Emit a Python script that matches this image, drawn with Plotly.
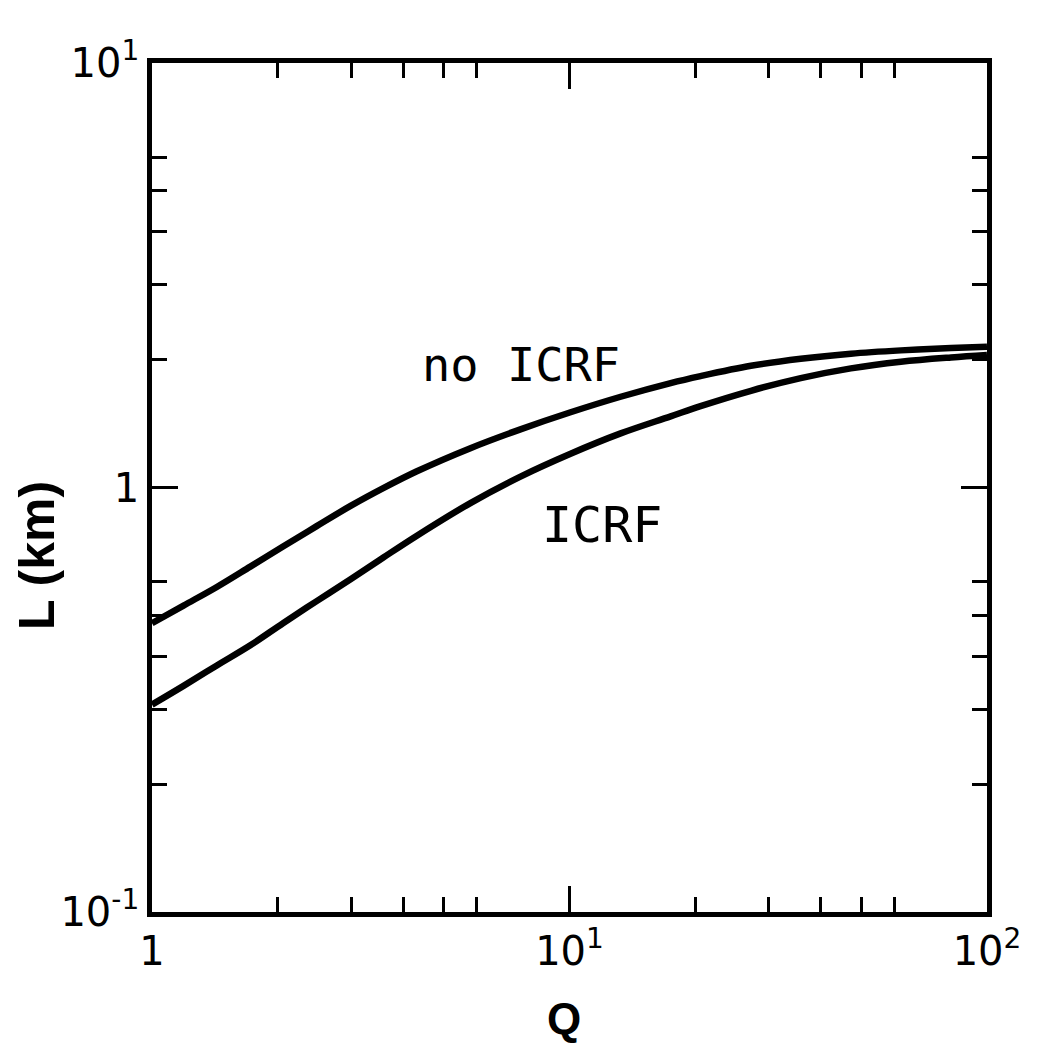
import plotly.graph_objects as go
import math

# Q sample points shared by both curves
q_values = [1, 1.19, 1.43, 1.72, 2.06, 2.48, 2.99, 3.59, 4.31, 5.79, 7.63,
            10.06, 13.26, 17.47, 20.6, 27.2, 35.8, 47.2, 62.2, 82.0, 100]

# L (km) without ICRF heating
l_no_icrf = [0.479, 0.527, 0.583, 0.651, 0.726, 0.811, 0.905, 0.998, 1.092,
             1.238, 1.371, 1.504, 1.636, 1.762, 1.83, 1.935, 2.011, 2.067,
             2.104, 2.131, 2.146]

# L (km) with ICRF heating
l_icrf = [0.308, 0.341, 0.381, 0.425, 0.479, 0.540, 0.608, 0.685, 0.770,
          0.919, 1.061, 1.201, 1.341, 1.471, 1.555, 1.690, 1.810, 1.908,
          1.978, 2.025, 2.052]

x_tickvals = [1, 10, 100]
x_ticktext = ["1", "10<sup>1</sup>", "10<sup>2</sup>"]
y_tickvals = [0.1, 1, 10]
y_ticktext = ["10<sup>-1</sup>", "1", "10<sup>1</sup>"]
x_minor = [2, 3, 4, 5, 6, 20, 30, 40, 50, 60]
y_minor = [0.2, 0.3, 0.4, 0.5, 0.6, 2, 3, 4, 5, 6]

# curve labels: (text, Q, L, font size)
curve_labels = [("no ICRF", 7.65, 1.95, 47), ("ICRF", 11.96, 0.818, 50)]

fig = go.Figure()
for ys in (l_no_icrf, l_icrf):
    fig.add_trace(go.Scatter(
        x=q_values, y=ys, mode="lines",
        line=dict(color="black", width=6.5, shape="spline", smoothing=1.0),
        showlegend=False, hoverinfo="skip",
    ))

axis_common = dict(
    type="log",
    showline=True, linecolor="black", linewidth=4.5,
    mirror="ticks",
    ticks="inside", ticklen=26, tickwidth=3, tickcolor="black",
    showgrid=False, zeroline=False,
    tickmode="array",
    tickfont=dict(family="DejaVu Sans", size=40, color="black"),
)

fig.update_xaxes(
    **axis_common,
    range=[0, 2],
    tickvals=x_tickvals, ticktext=x_ticktext,
    minor=dict(ticks="inside", ticklen=15, tickwidth=3, tickcolor="black",
               tickmode="array", tickvals=x_minor, showgrid=False),
)
fig.update_yaxes(
    **axis_common,
    range=[-1, 1],
    tickvals=y_tickvals, ticktext=y_ticktext,
    minor=dict(ticks="inside", ticklen=15, tickwidth=3, tickcolor="black",
               tickmode="array", tickvals=y_minor, showgrid=False),
)

for text, q, l, size in curve_labels:
    fig.add_annotation(
        x=math.log10(q), y=math.log10(l), xref="x", yref="y",
        text=text, showarrow=False,
        font=dict(family="DejaVu Sans Mono", size=size, color="black"),
    )

# axis titles
fig.add_annotation(
    x=0.494, y=-0.125, xref="paper", yref="paper",
    text="<b>Q</b>", showarrow=False, yanchor="middle",
    font=dict(family="Liberation Sans", size=44, color="black"),
)
fig.add_annotation(
    x=-0.137, y=0.42, xref="paper", yref="paper",
    text="<b>L (km)</b>", showarrow=False, textangle=-90,
    xanchor="center", yanchor="middle",
    font=dict(family="Liberation Sans", size=50, color="black"),
)

fig.update_layout(
    width=1038, height=1045,
    margin=dict(l=152, r=51, t=63, b=133),
    plot_bgcolor="white", paper_bgcolor="white",
)

fig.write_html("out.html")
